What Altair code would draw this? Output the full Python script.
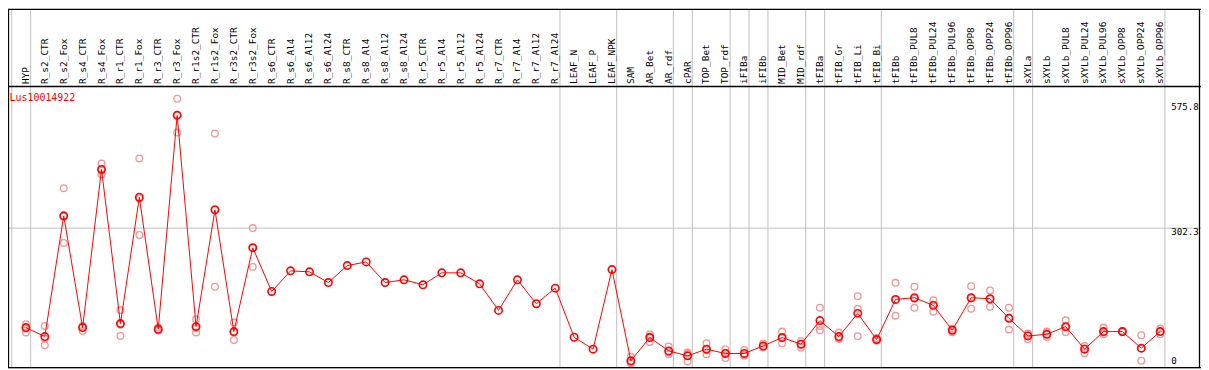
import altair as alt
import pandas as pd

# ---------------- data ----------------
samples = [
    "HYP", "R_s2_CTR", "R_s2_Fox", "R_s4_CTR", "R_s4_Fox", "R_r1_CTR", "R_r1_Fox",
    "R_r3_CTR", "R_r3_Fox", "R_r1s2_CTR", "R_r1s2_Fox", "R_r3s2_CTR", "R_r3s2_Fox",
    "R_s6_CTR", "R_s6_Al4", "R_s6_Al12", "R_s6_Al24", "R_s8_CTR", "R_s8_Al4",
    "R_s8_Al12", "R_s8_Al24", "R_r5_CTR", "R_r5_Al4", "R_r5_Al12", "R_r5_Al24",
    "R_r7_CTR", "R_r7_Al4", "R_r7_Al12", "R_r7_Al24", "LEAF_N", "LEAF_P", "LEAF_NPK",
    "SAM", "AR_Bet", "AR_rdf", "cPAR", "TOP_Bet", "TOP_rdf", "iFIBa", "iFIBb",
    "MID_Bet", "MID_rdf", "tFIBa", "tFIB_Gr", "tFIB_Li", "tFIB_Bi", "tFIBb",
    "tFIBb_PUL8", "tFIBb_PUL24", "tFIBb_PUL96", "tFIBb_OPP8", "tFIBb_OPP24",
    "tFIBb_OPP96", "sXYLa", "sXYLb", "sXYLb_PUL8", "sXYLb_PUL24", "sXYLb_PUL96",
    "sXYLb_OPP8", "sXYLb_OPP24", "sXYLb_OPP96",
]

groups = (
    ["HYP"] + ["R"] * 28 + ["LEAF"] * 3 + ["AR"] * 3 + ["cPAR"] + ["TOP"] * 2
    + ["iFIBa"] + ["iFIBb"] + ["MID"] * 2 + ["tFIBa"] + ["tFIBx"] * 3
    + ["tFIBb"] * 7 + ["sXYLa"] + ["sXYLb"] * 7
)

means = [
    91.9, 73.0, 328.2, 91.9, 426.5, 100.4, 367.5, 88.4, 540.7, 94.0, 340.8, 83.5, 260.9,
    168.3, 211.9, 209.8, 187.2, 223.0, 230.8, 187.2, 192.9, 182.4, 207.7, 207.7, 184.5,
    128.3, 192.9, 142.4, 175.3, 71.5, 46.3, 214.6,
    21.7, 70.9, 42.7, 32.2, 46.3, 37.2, 37.2, 53.2, 70.9, 56.8, 106.7, 73.0, 122.0, 66.7,
    151.5, 155.1, 138.9, 86.3, 155.1, 152.9, 111.5, 74.3, 77.8, 94.0, 46.3, 83.5, 83.5,
    48.4, 83.5,
]

replicates = [
    [98.9, 89.8, 81.4], [95.3, 54.7, 69.0], [386.5, 270.8, 327.0], [95.3, 84.8, 95.0],
    [439.1, 415.9, 424.0], [129.0, 74.3, 98.0], [449.6, 287.6, 365.0], [91.9, 86.9, 86.0],
    [575.8, 504.3, 542.0], [109.4, 81.4, 91.0], [502.2, 178.2, 342.0], [102.5, 65.9, 82.0],
    [302.3, 220.3, 260.0],
    [], [], [], [], [], [], [], [], [], [], [], [], [], [], [], [], [], [], [],
    [30.1, 18.5, 16.5], [77.8, 61.7, 73.0], [52.0, 35.8, 40.0], [39.3, 20.4, 37.0],
    [58.9, 35.8, 44.0], [46.3, 27.4, 38.0], [44.8, 32.2, 35.0], [58.2, 49.8, 52.0],
    [83.5, 58.9, 70.0], [63.8, 49.8, 57.0], [134.0, 95.3, 86.3], [81.4, 68.0, 70.0],
    [158.4, 131.9, 73.6], [66.7, 64.0, 70.0], [186.6, 117.2, 150.7], [178.2, 134.0, 153.0],
    [150.0, 125.6, 141.0], [90.0, 82.0, 87.0], [179.5, 131.9, 154.0], [170.4, 136.1, 152.0],
    [134.0, 87.7, 113.0], [79.3, 67.3, 76.0], [83.5, 72.2, 78.0], [107.3, 82.7, 92.0],
    [53.2, 37.9, 48.0], [91.9, 77.8, 81.0], [83.5, 82.0, 85.0], [75.7, 21.7, 48.0],
    [89.8, 77.8, 83.0],
]

gene = "Lus10014922"
value_labels = ["575.8", "302.3", "0"]
grid_value = 302.3

# ---------------- tables ----------------
n = len(samples)
df = pd.DataFrame({"idx": list(range(n)), "sample": samples, "mean": means, "group": groups})
rep_df = pd.DataFrame(
    [{"idx": i, "value": v} for i, rs in enumerate(replicates) for v in rs]
)
bounds = [-0.75] + [i + 0.25 for i in range(n) if i == n - 1 or groups[i] != groups[i + 1]]
bound_df = pd.DataFrame({"pos": bounds})
hgrid_df = pd.DataFrame({"v": [grid_value]})
one = pd.DataFrame({"a": [0]})

# ---------------- geometry ----------------
W, H = 1199, 361
step = 19.0
x0 = 18.0
xs = alt.Scale(domain=[-x0 / step, -x0 / step + W / step], nice=False, zero=False)
k = 0.47532
y_zero = 363.99
d0 = (y_zero - H) / k
d1 = d0 + H / k
ys = alt.Scale(domain=[d0, d1], nice=False, zero=False)

RED = "#ff0000"
PINK = "#f09696"
GRID = "#c0c0c0"
FONT = "DejaVu Sans Mono"

vgrid = alt.Chart(bound_df).mark_rule(color=GRID, strokeWidth=1).encode(
    x=alt.X("pos:Q", scale=xs, axis=None), y=alt.value(0), y2=alt.value(H)
)
hgrid = alt.Chart(hgrid_df).mark_rule(color=GRID, strokeWidth=1).encode(
    y=alt.Y("v:Q", scale=ys, axis=None), x=alt.value(0), x2=alt.value(W)
)

frame_layers = []
for (xa, xb, ya, yb) in [
    (0, W, 0.5, 0.5), (0, W, 78, 78), (0, W, 360.5, 360.5),
    (0.5, 0.5, 0, H), (1197.5, 1197.5, 0, H),
]:
    frame_layers.append(
        alt.Chart(one).mark_rule(color="black", strokeWidth=1.3).encode(
            x=alt.value(xa), x2=alt.value(xb), y=alt.value(ya), y2=alt.value(yb)
        )
    )

header = alt.Chart(df).mark_text(
    angle=270, align="left", baseline="middle", font=FONT, fontSize=9.5, color="black"
).encode(
    x=alt.X("idx:Q", scale=xs, axis=None), y=alt.value(75.5), text="sample:N"
)

reps = alt.Chart(rep_df).mark_point(
    shape="circle", filled=False, color=PINK, size=45, strokeWidth=1.3, opacity=1
).encode(
    x=alt.X("idx:Q", scale=xs, axis=None), y=alt.Y("value:Q", scale=ys, axis=None)
)

line = alt.Chart(df).mark_line(color=RED, strokeWidth=1).encode(
    x=alt.X("idx:Q", scale=xs, axis=None), y=alt.Y("mean:Q", scale=ys, axis=None),
    order="idx:Q",
)

pts = alt.Chart(df).mark_point(
    shape="circle", filled=False, color=RED, size=55, strokeWidth=1.6, opacity=1
).encode(
    x=alt.X("idx:Q", scale=xs, axis=None), y=alt.Y("mean:Q", scale=ys, axis=None)
)

title = alt.Chart(one).mark_text(
    align="left", baseline="middle", font=FONT, fontSize=10, color=RED
).encode(x=alt.value(1.5), y=alt.value(89.5), text=alt.value(gene))

label_layers = []
for txt, ypix in zip(value_labels, [98.7, 224.3, 353.7]):
    label_layers.append(
        alt.Chart(one).mark_text(
            align="left", baseline="middle", font=FONT, fontSize=9.2, color="black"
        ).encode(x=alt.value(1169.0), y=alt.value(ypix), text=alt.value(txt))
    )

chart = alt.layer(
    vgrid, hgrid, *frame_layers, header, reps, line, pts, title, *label_layers
).properties(
    width=W, height=H, padding=0, autosize=alt.AutoSizeParams(type="none")
).configure_view(stroke=None).configure(background="white")

chart.save("out.html", embed_options={"renderer": "svg", "actions": False})
